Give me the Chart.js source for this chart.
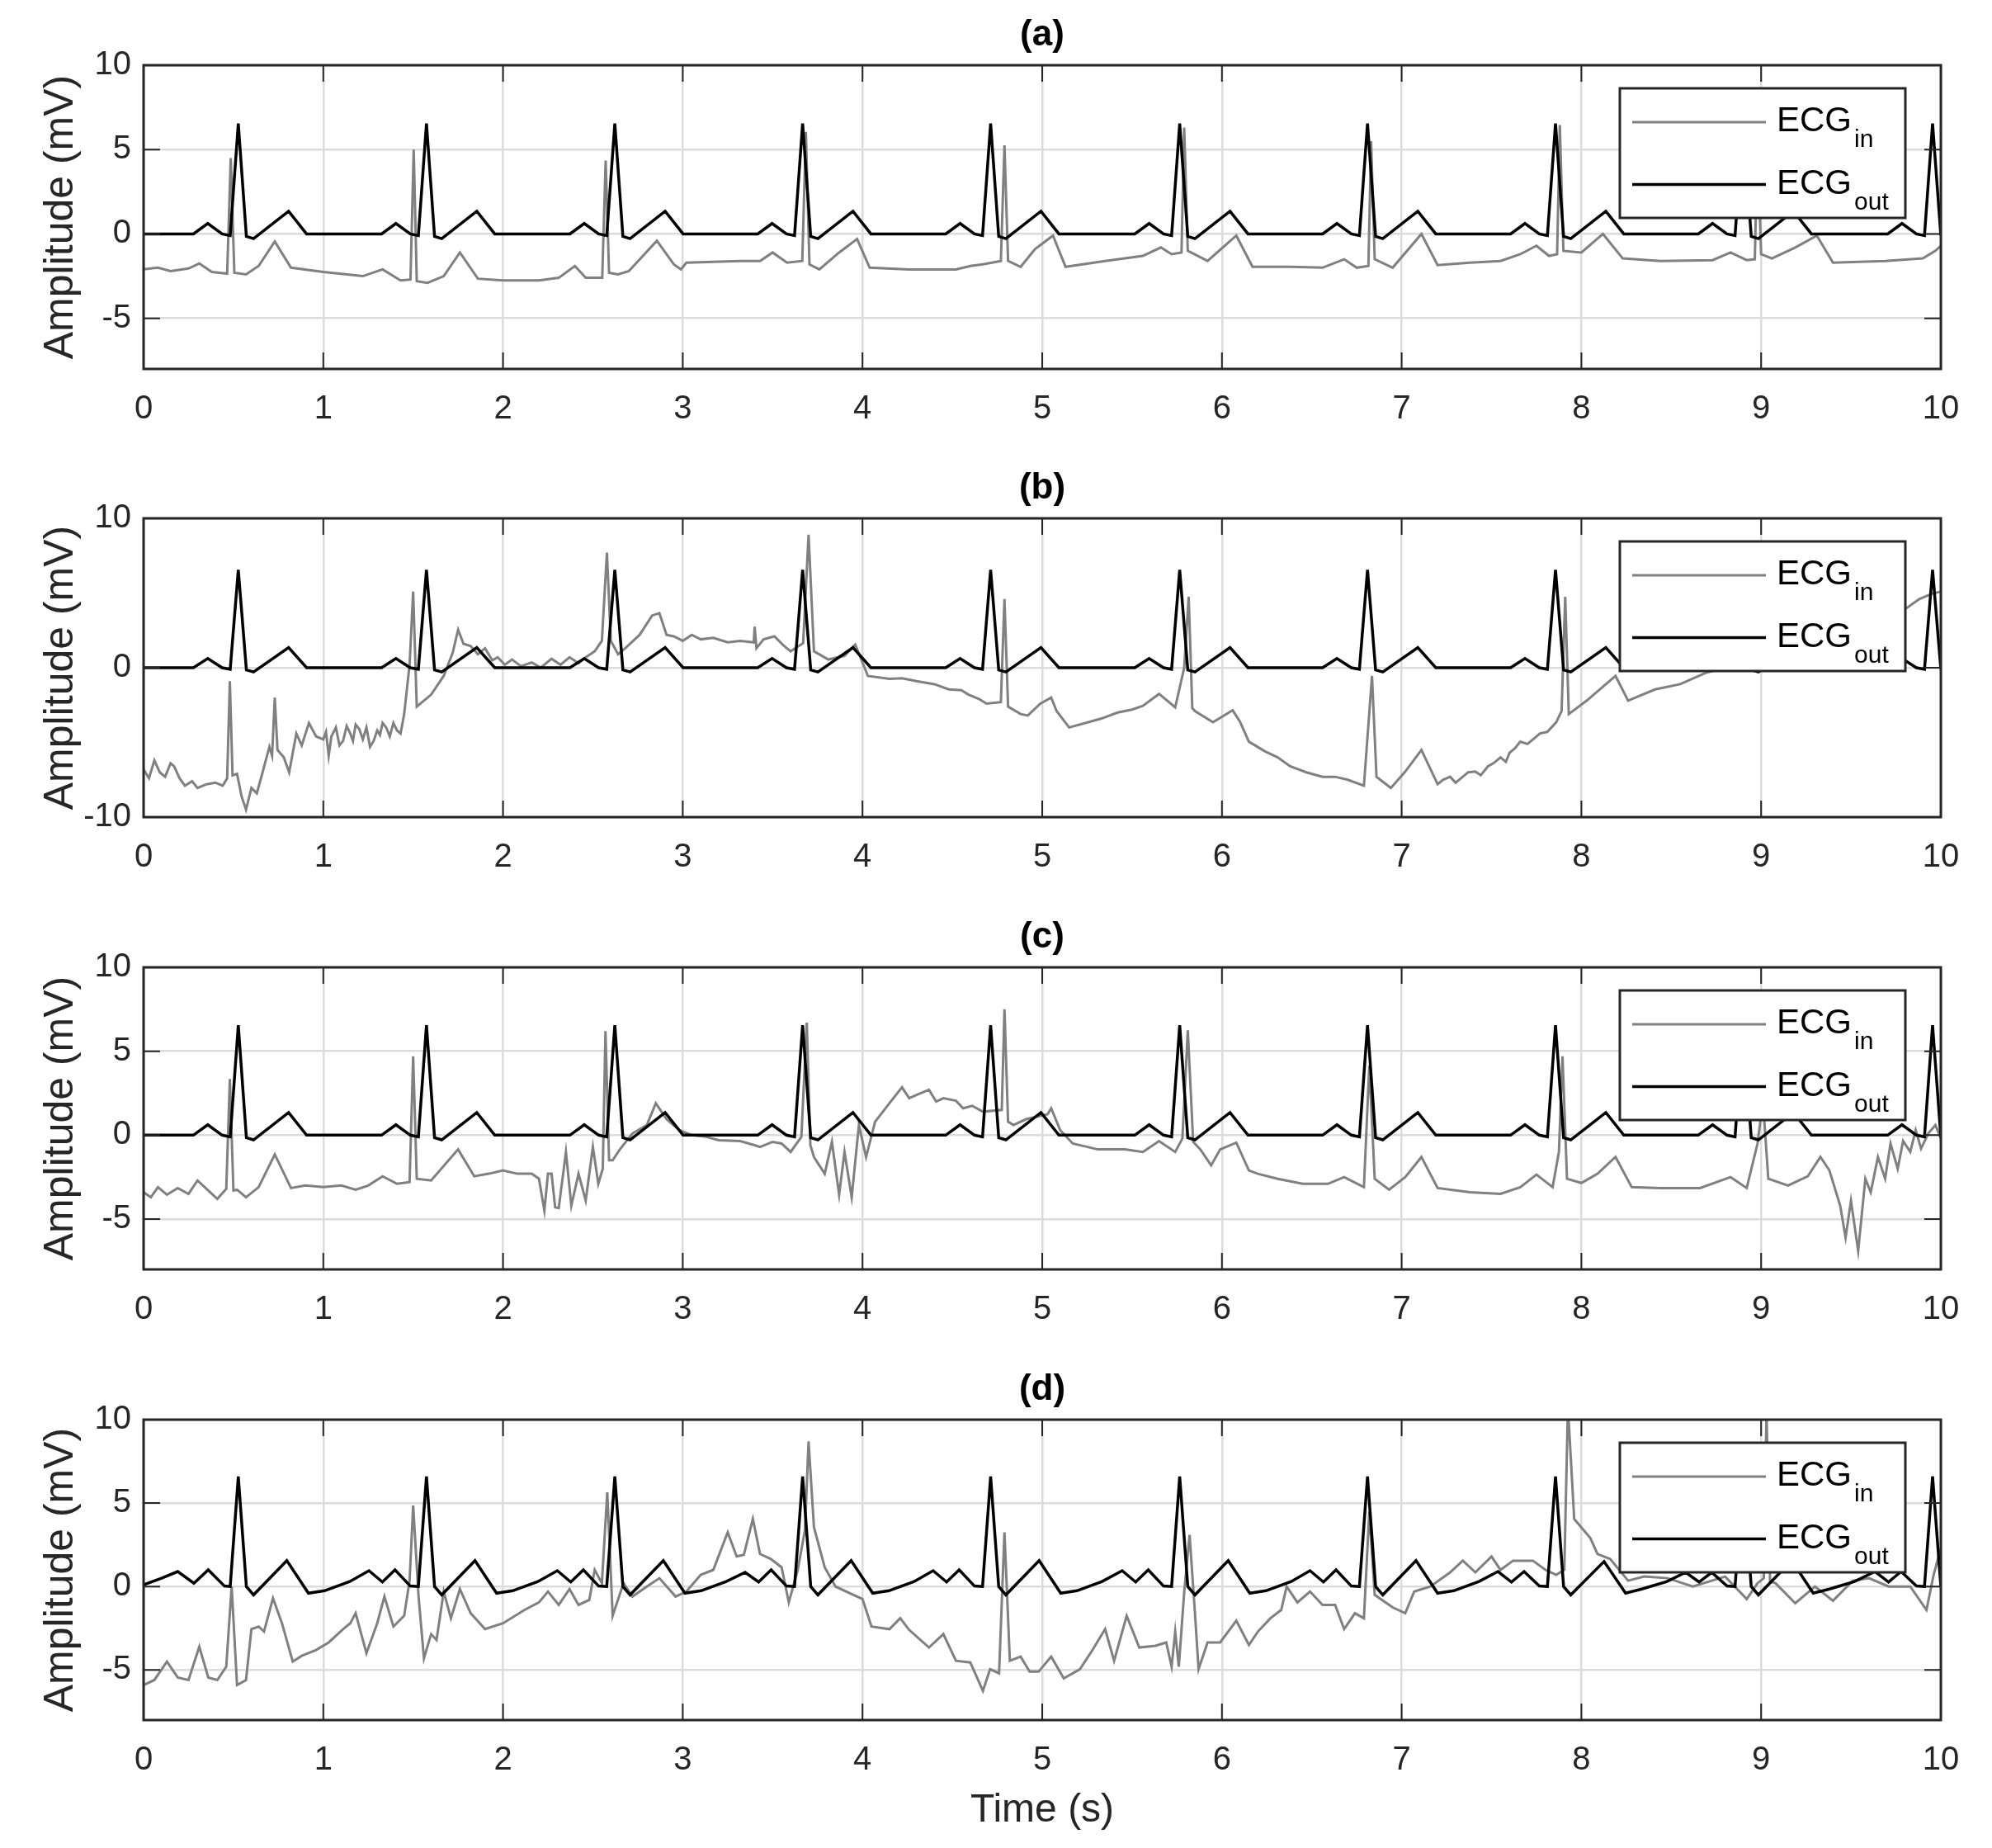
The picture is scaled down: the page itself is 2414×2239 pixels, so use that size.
<!DOCTYPE html>
<html><head><meta charset="utf-8">
<script src="https://cdn.jsdelivr.net/npm/chart.js@4/dist/chart.umd.min.js"></script>
<style>
html,body{margin:0;padding:0;background:#fff;}
body{width:2414px;height:2239px;position:relative;overflow:hidden;}
.panel{position:absolute;left:0;width:2414px;}
canvas{display:block;}
</style></head><body>
<div class="panel" style="top:0px;height:549px"><canvas id="ca" width="2414" height="549"></canvas></div>
<div class="panel" style="top:549px;height:544px"><canvas id="cb" width="2414" height="544"></canvas></div>
<div class="panel" style="top:1093px;height:548px"><canvas id="cc" width="2414" height="548"></canvas></div>
<div class="panel" style="top:1641px;height:598px"><canvas id="cd" width="2414" height="598"></canvas></div>
<script>
// ---------- tick labels ----------
const xTicks = [0,1,2,3,4,5,6,7,8,9,10];
const yTicksStd = [-5,0,5,10];
const yTicksB = [-10,0,10];
const panelTitles = ['(a)','(b)','(c)','(d)'];
const seriesNames = ['ECG_in','ECG_out'];

// ---------- ECG_out (same trace in a, b, c) [time s, mV] ----------
const ecgOut = [[0,0],
[0.277,0],[0.357,0.62],[0.437,0],[0.482,-0.1],[0.527,6.55],[0.572,-0.15],[0.612,-0.28],[0.807,1.35],[0.907,0],
[1.324,0],[1.404,0.62],[1.484,0],[1.529,-0.1],[1.574,6.55],[1.619,-0.15],[1.659,-0.28],[1.854,1.35],[1.954,0],
[2.372,0],[2.452,0.62],[2.532,0],[2.577,-0.1],[2.622,6.55],[2.667,-0.15],[2.707,-0.28],[2.902,1.35],[3.002,0],
[3.417,0],[3.497,0.62],[3.577,0],[3.622,-0.1],[3.667,6.55],[3.712,-0.15],[3.752,-0.28],[3.947,1.35],[4.047,0],
[4.463,0],[4.543,0.62],[4.623,0],[4.668,-0.1],[4.713,6.55],[4.758,-0.15],[4.798,-0.28],[4.993,1.35],[5.093,0],
[5.515,0],[5.595,0.62],[5.675,0],[5.72,-0.1],[5.765,6.55],[5.81,-0.15],[5.85,-0.28],[6.045,1.35],[6.145,0],
[6.56,0],[6.64,0.62],[6.72,0],[6.765,-0.1],[6.81,6.55],[6.855,-0.15],[6.895,-0.28],[7.09,1.35],[7.19,0],
[7.606,0],[7.686,0.62],[7.766,0],[7.811,-0.1],[7.856,6.55],[7.901,-0.15],[7.941,-0.28],[8.136,1.35],[8.236,0],
[8.65,0],[8.73,0.62],[8.81,0],[8.855,-0.1],[8.90,6.55],[8.945,-0.15],[8.985,-0.28],[9.18,1.35],[9.28,0],
[9.704,0],[9.784,0.62],[9.864,0],[9.909,-0.1],[9.954,6.55],[10,-0.1]];

// ---------- ECG_out in panel (d) ----------
const ecgOutD = [[0,0.1],[0.1,0.5],[0.19,0.9],[0.28,0.2],[0.36,1.0],[0.45,0.03],[0.482,0],[0.527,6.6],
[0.572,0],[0.612,-0.5],[0.797,1.55],[0.917,-0.4],[1.007,-0.25],[1.147,0.3],[1.254,0.95],[1.329,0.27],[1.399,1.0],[1.484,0.03],[1.529,0],[1.574,6.6],
[1.619,0],[1.659,-0.5],[1.844,1.55],[1.964,-0.4],[2.054,-0.25],[2.194,0.3],[2.302,0.95],[2.377,0.27],[2.447,1.0],[2.532,0.03],[2.577,0],[2.622,6.6],
[2.667,0],[2.707,-0.5],[2.892,1.55],[3.012,-0.4],[3.102,-0.25],[3.242,0.3],[3.347,0.85],[3.422,0.27],[3.492,1.0],[3.577,0.03],[3.622,0],[3.667,6.6],
[3.712,0],[3.752,-0.5],[3.937,1.55],[4.057,-0.4],[4.147,-0.25],[4.287,0.3],[4.393,0.95],[4.468,0.27],[4.538,1.0],[4.623,0.03],[4.668,0],[4.713,6.6],
[4.758,0],[4.798,-0.5],[4.983,1.55],[5.103,-0.4],[5.193,-0.25],[5.333,0.3],[5.445,0.95],[5.52,0.27],[5.59,1.0],[5.675,0.03],[5.72,0],[5.765,6.6],
[5.81,0],[5.85,-0.5],[6.035,1.55],[6.155,-0.4],[6.245,-0.25],[6.385,0.3],[6.49,0.95],[6.565,0.27],[6.635,1.0],[6.72,0.03],[6.765,0],[6.81,6.6],
[6.855,0],[6.895,-0.5],[7.08,1.55],[7.2,-0.4],[7.29,-0.25],[7.43,0.3],[7.536,0.9],[7.611,0.27],[7.681,0.9],[7.766,0.03],[7.811,0],[7.856,6.6],
[7.901,0],[7.941,-0.5],[8.126,1.5],[8.246,-0.4],[8.336,-0.15],[8.476,0.3],[8.58,0.85],[8.655,0.27],[8.725,0.85],[8.81,0.03],[8.855,0],[8.90,6.6],
[8.945,0],[8.985,-0.5],[9.17,1.55],[9.29,-0.4],[9.38,-0.15],[9.52,0.3],[9.634,0.9],[9.709,0.27],[9.779,0.9],[9.864,0.03],[9.909,0],[9.954,6.6],
[10,0]];

// ---------- ECG_in (a) ----------
const ecgInA = [[0,-2.1],[0.08,-2.0],[0.15,-2.2],[0.25,-2.05],[0.31,-1.75],[0.38,-2.25],[0.465,-2.35],[0.485,4.5],[0.505,-2.3],
[0.57,-2.4],[0.64,-1.9],[0.73,-0.45],[0.82,-2.0],[1.0,-2.25],[1.22,-2.5],[1.33,-2.1],[1.43,-2.75],[1.485,-2.7],[1.503,5.0],[1.52,-2.8],
[1.58,-2.9],[1.67,-2.5],[1.76,-1.1],[1.86,-2.65],[2.0,-2.75],[2.2,-2.75],[2.31,-2.6],[2.4,-1.9],[2.46,-2.6],[2.552,-2.6],[2.571,4.35],[2.59,-2.3],
[2.64,-2.4],[2.70,-2.2],[2.856,-0.4],[2.95,-1.8],[2.99,-2.1],[3.02,-1.7],[3.32,-1.6],[3.43,-1.6],[3.5,-1.1],[3.58,-1.7],[3.665,-1.6],[3.685,6.05],[3.705,-1.8],
[3.76,-2.1],[3.87,-1.1],[3.97,-0.3],[4.04,-2.0],[4.26,-2.1],[4.52,-2.1],[4.6,-1.9],[4.67,-1.8],[4.77,-1.6],[4.79,5.25],[4.81,-1.6],
[4.88,-1.95],[4.96,-0.9],[5.06,-0.1],[5.13,-1.95],[5.35,-1.6],[5.56,-1.3],[5.66,-0.8],[5.72,-1.2],[5.775,-1.1],[5.79,6.3],[5.81,-1.0],
[5.92,-1.6],[6.08,-0.1],[6.17,-1.95],[6.38,-1.95],[6.56,-2.0],[6.68,-1.5],[6.75,-2.0],[6.815,-1.9],[6.83,5.5],[6.85,-1.5],[6.95,-2.0],
[7.11,0],[7.2,-1.85],[7.38,-1.7],[7.55,-1.6],[7.66,-1.2],[7.75,-0.7],[7.82,-1.3],[7.865,-1.2],[7.88,6.45],[7.90,-1.0],[8.0,-1.1],
[8.12,0],[8.23,-1.45],[8.44,-1.6],[8.73,-1.55],[8.83,-1.1],[8.92,-1.55],[8.965,-1.5],[8.98,5.5],[9.0,-1.2],[9.06,-1.45],[9.19,-0.8],
[9.31,-0.1],[9.40,-1.7],[9.69,-1.6],[9.9,-1.45],[9.97,-1.0],[10,-0.7]];

// ---------- ECG_in (b) ----------
const ecgInB = [[0,-6.8],[0.03,-7.4],[0.06,-6.2],[0.09,-7.0],[0.12,-7.3],[0.15,-6.4],[0.17,-6.6],[0.20,-7.4],[0.23,-7.9],[0.27,-7.6],[0.3,-8.05],
[0.35,-7.8],[0.4,-7.7],[0.44,-7.9],[0.465,-7.4],[0.48,-0.9],[0.495,-7.2],[0.52,-7.1],[0.545,-8.6],[0.57,-9.5],[0.6,-8.05],[0.63,-8.4],
[0.66,-7.1],[0.70,-5.3],[0.715,-5.9],[0.73,-2.0],[0.745,-5.5],[0.78,-6.0],[0.81,-7.0],[0.85,-4.4],[0.88,-5.2],[0.92,-3.7],[0.96,-4.6],
[1.0,-4.8],[1.015,-4.3],[1.03,-5.9],[1.045,-4.6],[1.07,-4.0],[1.09,-5.2],[1.11,-4.9],[1.13,-3.9],[1.15,-4.4],[1.165,-4.9],[1.18,-3.8],
[1.2,-4.1],[1.22,-4.8],[1.24,-4.0],[1.26,-5.3],[1.28,-4.9],[1.3,-4.2],[1.315,-4.5],[1.33,-3.7],[1.35,-4.0],[1.37,-4.6],[1.39,-3.7],
[1.41,-4.2],[1.43,-4.4],[1.45,-3.1],[1.48,0.2],[1.50,5.1],[1.52,-2.6],[1.6,-1.8],[1.67,-0.55],[1.72,1.0],[1.75,2.55],[1.78,1.6],[1.82,1.45],
[1.86,0.9],[1.90,1.3],[1.94,0.5],[1.97,0.7],[2.01,0.2],[2.05,0.55],[2.1,0.1],[2.16,0.35],[2.21,0.0],[2.27,0.6],[2.32,0.2],[2.37,0.7],
[2.42,0.3],[2.46,0.7],[2.51,1.1],[2.55,1.8],[2.578,7.7],[2.60,1.8],[2.64,0.9],[2.68,1.3],[2.76,2.2],[2.83,3.5],[2.87,3.65],[2.91,2.2],
[2.95,2.1],[3.0,1.8],[3.05,2.2],[3.1,1.9],[3.17,2.0],[3.25,1.7],[3.32,1.8],[3.395,1.7],[3.40,2.75],[3.41,1.3],[3.45,1.9],[3.51,2.1],
[3.56,1.5],[3.6,1.1],[3.67,1.65],[3.70,8.9],[3.73,1.1],[3.81,0.55],[3.9,0.8],[3.96,1.55],[4.03,-0.55],[4.15,-0.75],[4.22,-0.7],
[4.3,-0.9],[4.4,-1.1],[4.48,-1.45],[4.55,-1.5],[4.59,-1.8],[4.65,-2.1],[4.69,-2.4],[4.77,-2.3],[4.79,4.6],[4.81,-2.6],[4.88,-3.1],
[4.92,-3.2],[4.99,-2.4],[5.05,-2.0],[5.08,-2.9],[5.15,-4.0],[5.24,-3.7],[5.33,-3.4],[5.42,-3.0],[5.5,-2.8],[5.56,-2.55],[5.65,-1.75],
[5.74,-2.65],[5.79,0],[5.815,4.75],[5.835,-2.7],[5.85,-2.9],[5.95,-3.65],[6.06,-2.85],[6.10,-3.6],[6.15,-4.95],[6.24,-5.6],[6.31,-6.0],
[6.38,-6.6],[6.47,-7.0],[6.56,-7.3],[6.63,-7.3],[6.70,-7.5],[6.79,-7.9],[6.835,-0.55],[6.86,-7.3],[6.94,-8.05],[7.02,-6.95],[7.11,-5.5],
[7.2,-7.8],[7.23,-7.5],[7.27,-7.3],[7.3,-7.7],[7.34,-7.3],[7.37,-7.0],[7.41,-6.95],[7.44,-7.2],[7.48,-6.6],[7.51,-6.4],[7.55,-6.0],
[7.58,-6.3],[7.6,-5.7],[7.63,-5.4],[7.66,-4.95],[7.7,-5.1],[7.74,-4.7],[7.77,-4.4],[7.81,-4.3],[7.86,-3.65],[7.89,-2.9],
[7.91,4.75],[7.93,-3.1],[8.03,-2.2],[8.19,-0.55],[8.26,-2.2],[8.41,-1.45],[8.55,-1.1],[8.69,-0.35],[8.8,0.0],[8.9,0.3],[8.97,0.6],
[8.99,6.0],[9.01,0.8],[9.2,1.8],[9.4,2.6],[9.6,3.3],[9.81,4.0],[9.88,4.6],[9.95,4.95],[10,5.1]];

// ---------- ECG_in (c) ----------
const ecgInC = [[0,-3.4],[0.04,-3.7],[0.08,-3.1],[0.13,-3.55],[0.19,-3.15],[0.25,-3.5],[0.30,-2.7],[0.36,-3.3],[0.41,-3.8],[0.46,-3.2],
[0.48,3.35],[0.50,-3.3],[0.52,-3.25],[0.57,-3.7],[0.64,-3.1],[0.73,-1.15],[0.82,-3.15],[0.9,-3.0],[1.0,-3.1],[1.1,-3.0],[1.18,-3.25],
[1.25,-3.0],[1.33,-2.45],[1.41,-2.9],[1.48,-2.8],[1.50,4.7],[1.52,-2.6],[1.6,-2.7],[1.75,-0.85],[1.84,-2.45],[1.92,-2.3],[2.0,-2.1],
[2.08,-2.3],[2.16,-2.3],[2.2,-2.6],[2.23,-4.5],[2.25,-2.3],[2.27,-2.3],[2.29,-4.3],[2.31,-4.35],[2.35,-1.0],[2.38,-4.2],[2.42,-2.3],
[2.46,-3.9],[2.5,-0.7],[2.53,-2.9],[2.555,-2.0],[2.57,6.2],[2.59,-1.5],[2.61,-1.5],[2.65,-0.85],[2.72,0.1],[2.80,0.6],[2.85,1.9],
[2.91,0.95],[2.98,0.3],[3.05,0.0],[3.13,-0.1],[3.2,-0.3],[3.32,-0.35],[3.4,-0.6],[3.43,-0.7],[3.5,-0.4],[3.55,-0.5],[3.6,-1.0],
[3.66,-0.1],[3.69,6.7],[3.71,-0.6],[3.73,-1.3],[3.79,-2.3],[3.83,-0.4],[3.87,-3.55],[3.90,-1.0],[3.94,-3.7],[3.98,0.6],[4.02,-1.3],
[4.07,0.8],[4.15,1.9],[4.22,2.85],[4.26,2.2],[4.30,2.4],[4.37,2.7],[4.41,2.0],[4.45,2.2],[4.52,2.05],[4.56,1.6],[4.61,1.75],[4.67,1.4],
[4.775,1.5],[4.79,7.5],[4.81,0.8],[4.84,0.6],[4.91,0.95],[5.03,1.25],[5.05,1.6],[5.1,0.3],[5.17,-0.5],[5.31,-0.85],[5.46,-0.85],
[5.56,-1.0],[5.65,-0.35],[5.74,-1.0],[5.78,-0.2],[5.81,6.25],[5.84,-0.4],[5.88,-0.85],[5.94,-1.8],[5.99,-0.85],[6.08,-0.45],[6.15,-2.1],
[6.2,-2.3],[6.31,-2.6],[6.45,-2.9],[6.59,-2.9],[6.68,-2.5],[6.79,-3.1],[6.82,4.15],[6.85,-2.6],[6.93,-3.25],[7.02,-2.5],[7.11,-1.3],
[7.2,-3.15],[7.38,-3.4],[7.55,-3.5],[7.66,-3.1],[7.75,-2.35],[7.84,-3.1],[7.875,-1.0],[7.895,4.7],[7.92,-2.6],[8.0,-2.85],[8.09,-2.3],
[8.19,-1.3],[8.28,-3.1],[8.44,-3.15],[8.66,-3.15],[8.83,-2.5],[8.92,-3.15],[8.98,-0.5],[9.01,2.05],[9.04,-2.6],[9.15,-3.0],[9.26,-2.45],
[9.33,-1.3],[9.38,-2.1],[9.44,-4.2],[9.47,-6.1],[9.5,-3.9],[9.54,-6.9],[9.58,-2.6],[9.61,-3.4],[9.65,-1.3],[9.69,-2.6],[9.72,-0.5],
[9.76,-2.0],[9.79,-0.35],[9.83,-1.0],[9.86,0.3],[9.89,-0.8],[9.93,0.1],[9.97,0.6],[10,-0.2]];

// ---------- ECG_in (d) ----------
const ecgInD = [[0,-5.9],[0.06,-5.6],[0.13,-4.5],[0.19,-5.45],[0.25,-5.6],[0.31,-3.6],[0.36,-5.45],[0.41,-5.6],[0.46,-4.8],[0.49,0.0],
[0.52,-5.9],[0.57,-5.6],[0.6,-2.55],[0.64,-2.4],[0.67,-2.7],[0.72,-0.7],[0.77,-2.2],[0.83,-4.5],[0.88,-4.15],[0.96,-3.8],[1.03,-3.35],
[1.11,-2.55],[1.15,-2.2],[1.18,-1.6],[1.24,-4.0],[1.3,-2.2],[1.34,-0.6],[1.39,-2.4],[1.45,-1.75],[1.48,0.35],[1.50,4.85],[1.53,-0.6],
[1.56,-4.3],[1.6,-2.85],[1.63,-3.2],[1.67,-0.3],[1.71,-1.9],[1.76,-0.15],[1.82,-1.6],[1.9,-2.55],[2.0,-2.2],[2.12,-1.4],[2.2,-0.95],
[2.25,-0.3],[2.31,-1.1],[2.37,-0.15],[2.42,-1.1],[2.48,-0.8],[2.51,1.0],[2.55,0.2],[2.58,5.65],[2.61,-1.75],[2.67,0.2],[2.72,-0.6],
[2.8,0.0],[2.87,0.5],[2.96,-0.6],[3.02,-0.3],[3.1,0.7],[3.17,1.0],[3.25,3.25],[3.3,1.8],[3.34,1.9],[3.39,4.05],[3.43,1.95],[3.49,1.65],
[3.55,1.15],[3.59,-0.95],[3.64,1.0],[3.68,3.4],[3.70,8.7],[3.73,3.55],[3.79,1.15],[3.85,0.0],[3.94,-0.45],[4.0,-0.75],[4.05,-2.4],
[4.15,-2.55],[4.21,-1.9],[4.26,-2.6],[4.37,-3.65],[4.45,-2.85],[4.52,-4.45],[4.6,-4.55],[4.67,-6.25],[4.71,-4.95],[4.76,-5.2],
[4.79,3.25],[4.82,-4.45],[4.88,-4.2],[4.93,-5.1],[4.98,-5.1],[5.05,-4.2],[5.12,-5.5],[5.21,-4.95],[5.28,-3.8],[5.35,-2.55],[5.40,-4.45],
[5.47,-1.75],[5.54,-3.65],[5.63,-3.55],[5.69,-3.35],[5.72,-4.8],[5.74,-2.7],[5.76,-4.8],[5.79,-0.35],[5.82,3.1],[5.85,-1.6],[5.87,-4.95],
[5.92,-3.35],[5.99,-3.35],[6.08,-2.05],[6.15,-3.5],[6.2,-2.7],[6.27,-1.9],[6.33,-1.4],[6.36,0.0],[6.42,-0.95],[6.49,-0.3],[6.56,-1.1],
[6.63,-1.1],[6.68,-2.55],[6.74,-1.6],[6.79,-1.9],[6.82,4.5],[6.85,-0.5],[6.95,-1.25],[7.02,-1.6],[7.07,-0.3],[7.16,0.0],[7.27,0.85],
[7.34,1.55],[7.41,0.85],[7.5,1.8],[7.55,1.0],[7.62,1.55],[7.73,1.55],[7.8,1.0],[7.86,0.7],[7.905,1.0],[7.925,10.8],[7.96,4.05],
[8.05,2.9],[8.09,1.95],[8.16,1.65],[8.26,0.35],[8.35,0.6],[8.48,0.5],[8.62,0.0],[8.8,0.6],[8.92,-0.75],[8.98,0.2],[9.015,0.5],
[9.03,10.5],[9.05,0.3],[9.08,0.2],[9.19,-1.0],[9.3,0.0],[9.4,-0.85],[9.51,0.35],[9.6,0.5],[9.71,0.0],[9.83,0.0],[9.92,-1.4],[9.96,0.7],[10,2.3]];

// ---------- rendering ----------
const FONT = '"Liberation Sans", Arial, Helvetica, sans-serif';
Chart.defaults.font.family = FONT;
const AXIS_COLOR = '#262626';

const framePlugin = {
  id: 'frame',
  afterDatasetsDraw(chart) {
    const {ctx, chartArea: a, scales: {x, y}} = chart;
    ctx.save();
    ctx.strokeStyle = AXIS_COLOR;
    ctx.lineWidth = 2;
    ctx.beginPath();
    x.ticks.forEach(t => {
      const px = x.getPixelForValue(t.value);
      ctx.moveTo(px, a.bottom); ctx.lineTo(px, a.bottom - 20);
      ctx.moveTo(px, a.top); ctx.lineTo(px, a.top + 20);
    });
    y.ticks.forEach(t => {
      const py = y.getPixelForValue(t.value);
      ctx.moveTo(a.left, py); ctx.lineTo(a.left + 20, py);
      ctx.moveTo(a.right, py); ctx.lineTo(a.right - 20, py);
    });
    ctx.stroke();
    ctx.lineWidth = 3;
    ctx.strokeRect(a.left, a.top, a.right - a.left, a.bottom - a.top);
    ctx.restore();
  }
};

const legendPlugin = {
  id: 'ecgLegend',
  afterDraw(chart) {
    const {ctx, chartArea: a} = chart;
    const bx = a.right - 389, by = a.top + 28, bw = 346, bh = 157;
    ctx.save();
    ctx.fillStyle = '#fff';
    ctx.fillRect(bx, by, bw, bh);
    ctx.strokeStyle = AXIS_COLOR;
    ctx.lineWidth = 3;
    ctx.strokeRect(bx, by, bw, bh);
    chart.data.datasets.forEach((ds, i) => {
      const ly = by + 41 + i * 75.6;
      ctx.strokeStyle = ds.borderColor;
      ctx.lineWidth = ds.borderWidth;
      ctx.beginPath(); ctx.moveTo(bx + 15, ly); ctx.lineTo(bx + 177, ly); ctx.stroke();
      const parts = ds.label.split('_');
      ctx.fillStyle = '#000';
      ctx.textBaseline = 'alphabetic';
      ctx.textAlign = 'left';
      ctx.font = '42px ' + FONT;
      ctx.fillText(parts[0], bx + 190, ly + 11);
      const w = ctx.measureText(parts[0]).width;
      ctx.font = '30px ' + FONT;
      ctx.fillText(parts[1], bx + 190 + w + 3, ly + 30);
    });
    ctx.restore();
  }
};

function makePanel(id, title, inData, outData, yMin, yMax, yTicks, plotTop, plotH, canvasH, showXTitle) {
  const pts = arr => arr.map(p => ({x: p[0], y: p[1]}));
  new Chart(document.getElementById(id), {
    type: 'line',
    data: {datasets: [
      {label: seriesNames[0], data: pts(inData), borderColor: '#808080', borderWidth: 3, pointRadius: 0, order: 1, tension: 0},
      {label: seriesNames[1], data: pts(outData), borderColor: '#000000', borderWidth: 3.5, pointRadius: 0, order: 0, tension: 0}
    ]},
    options: {
      responsive: false, animation: false, devicePixelRatio: 1,
      layout: {padding: {left: 0, right: 62, top: 0, bottom: 0}},
      plugins: {
        legend: {display: false}, tooltip: {enabled: false},
        title: {display: true, text: title, fullSize: false, color: '#000',
                font: {family: FONT, size: 44, weight: 'bold'}, padding: {top: 16.6, bottom: plotTop - 16.6 - 52.8}}
      },
      scales: {
        x: {
          type: 'linear', min: 0, max: 10,
          afterBuildTicks: s => { s.ticks = xTicks.map(v => ({value: v})); },
          afterFit: s => { s.height = canvasH - plotTop - plotH; },
          ticks: {font: {size: 40}, color: AXIS_COLOR, padding: 25, maxRotation: 0, autoSkip: false},
          grid: {color: '#dcdcdc', lineWidth: 2.5, drawTicks: false},
          border: {display: false},
          title: {display: showXTitle, text: 'Time (s)', color: AXIS_COLOR, font: {size: 48}, padding: {top: 0, bottom: 16}}
        },
        y: {
          type: 'linear', min: yMin, max: yMax,
          afterBuildTicks: s => { s.ticks = yTicks.map(v => ({value: v})); },
          afterFit: s => { s.width = 174; },
          ticks: {font: {size: 40}, color: AXIS_COLOR, padding: 15},
          grid: {color: '#dcdcdc', lineWidth: 2.5, drawTicks: false},
          border: {display: false},
          title: {display: true, text: 'Amplitude (mV)', color: AXIS_COLOR, font: {size: 50}, padding: {top: 44, bottom: 0}}
        }
      }
    },
    plugins: [framePlugin, legendPlugin]
  });
}

makePanel('ca', panelTitles[0], ecgInA, ecgOut, -8, 10, yTicksStd, 79, 368, 549, false);
makePanel('cb', panelTitles[1], ecgInB, ecgOut, -10, 10, yTicksB, 79, 362, 544, false);
makePanel('cc', panelTitles[2], ecgInC, ecgOut, -8, 10, yTicksStd, 79, 366, 548, false);
makePanel('cd', panelTitles[3], ecgInD, ecgOutD, -8, 10, yTicksStd, 79, 364, 598, true);
</script>
</body></html>
